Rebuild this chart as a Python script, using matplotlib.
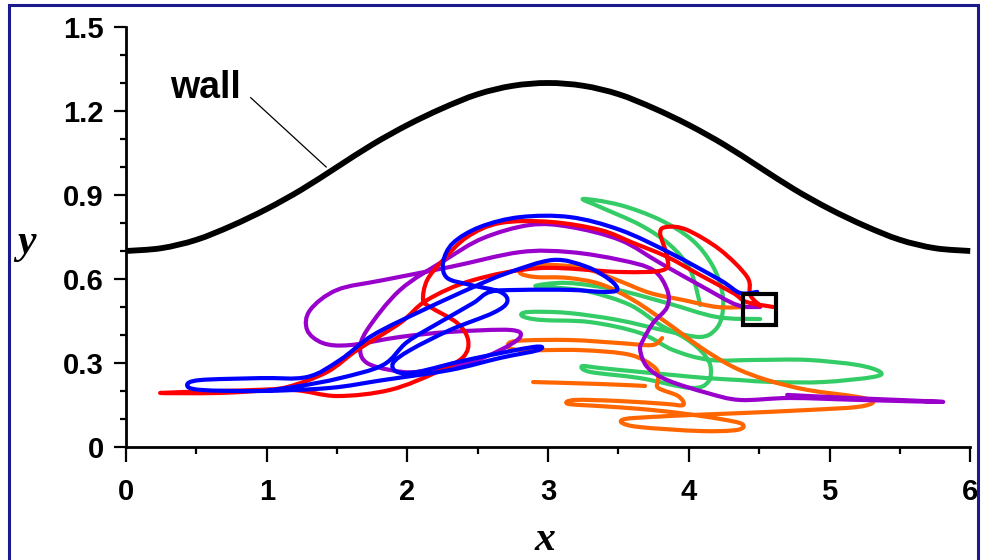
import numpy as np
import matplotlib.pyplot as plt
from matplotlib.patches import Rectangle, PathPatch
from matplotlib.path import Path
from matplotlib.ticker import MultipleLocator

plt.rcParams['font.family'] = ['Liberation Sans', 'DejaVu Sans']
plt.rcParams['font.weight'] = 'bold'

# wavy wall y(x)
wall_x = [0, 0.25, 0.5, 0.75, 1.0, 1.25, 1.5, 1.75, 2.0, 2.25, 2.5, 2.75, 3.0,
          3.25, 3.5, 3.75, 4.0, 4.25, 4.5, 4.75, 5.0, 5.25, 5.5, 5.75, 6.0]
wall_y = [0.70, 0.71, 0.74, 0.79, 0.85, 0.92, 1.00, 1.08, 1.15, 1.21, 1.26, 1.29, 1.30,
          1.29, 1.26, 1.21, 1.15, 1.08, 1.00, 0.92, 0.85, 0.79, 0.74, 0.71, 0.70]

# particle paths (x, y); nan breaks a path into pieces
red_x = [4.60, 4.41, 4.315, 4.08, 3.846, 3.604, 3.37, 3.014, 2.659, 2.424, 2.254, 2.14,
         2.111, 2.161, 2.353, 2.431, 2.396, 2.211, 1.877, 1.50, 1.166, 0.668, 0.242,
         0.668, 0.931, 1.145, 1.429, 1.642, 1.948, 2.14, 2.467, 2.943, 3.512, 3.817,
         3.846, 3.796, 3.846, 3.988, 4.223, 4.415, 4.436, 4.507]
red_y = [0.50, 0.518, 0.55, 0.614, 0.679, 0.729, 0.775, 0.804, 0.80, 0.75, 0.668, 0.596,
         0.525, 0.50, 0.443, 0.382, 0.321, 0.268, 0.204, 0.182, 0.204, 0.193, 0.193,
         0.20, 0.204, 0.214, 0.268, 0.346, 0.443, 0.525, 0.596, 0.639, 0.625, 0.632,
         0.679, 0.764, 0.786, 0.775, 0.704, 0.607, 0.543, 0.504]

blue_x = [4.486, 4.365, 4.223, 3.867, 3.512, 3.156, 2.801, 2.517, 2.325, 2.254,
          2.282, 2.445, 2.659, 2.709, 2.609, 2.303, 2.019, 1.898, 1.927, 2.069, 2.424, 2.893,
          2.929, 2.659, 2.303, 1.827, 1.45, 0.953, 0.526, 0.434, 0.526, 0.953, 1.287,
          1.521, 1.756, 2.111, 2.467, 2.709, 3.036, 3.277, 3.441, 3.491, 3.391, 3.156, 2.801, 2.588,
          2.467, 2.232, 1.998, 1.827, 1.521, 1.237, 0.988]
blue_y = [0.554, 0.55, 0.596, 0.693, 0.775, 0.821, 0.821, 0.786, 0.729, 0.661,
          0.604, 0.579, 0.554, 0.518, 0.479, 0.418, 0.346, 0.30, 0.268, 0.268, 0.311, 0.357,
          0.346, 0.318, 0.275, 0.239, 0.211, 0.20, 0.204, 0.221, 0.239, 0.246, 0.25,
          0.311, 0.40, 0.489, 0.571, 0.621, 0.668, 0.643, 0.596, 0.561, 0.554, 0.561, 0.561, 0.554,
          0.514, 0.446, 0.375, 0.293, 0.246, 0.218, 0.20]

purple_x = [4.507, 4.344, 4.102, 3.796, 3.512, 3.156, 2.872, 2.538, 2.268, 1.948, 1.713,
            1.664, 1.713, 1.877, 2.069, 2.424, 2.659, 2.801, 2.73, 2.303, 1.948, 1.592,
            1.40, 1.287, 1.308, 1.50, 1.827, 2.303, 2.801, 3.156, 3.512, 3.746, 3.846,
            3.846, 3.746, 3.675, 3.654, 3.704, 3.846, 4.13, 4.365, 4.72, 5.218, 5.808,
            5.147, 4.699]
purple_y = [0.50, 0.507, 0.571, 0.657, 0.739, 0.786, 0.793, 0.746, 0.668, 0.561, 0.418,
            0.346, 0.30, 0.275, 0.268, 0.30, 0.346, 0.393, 0.418, 0.411, 0.393, 0.364,
            0.371, 0.418, 0.489, 0.561, 0.596, 0.643, 0.696, 0.696, 0.668, 0.632, 0.561,
            0.50, 0.443, 0.382, 0.346, 0.286, 0.239, 0.193, 0.168, 0.175, 0.168, 0.161,
            0.175, 0.186]

green_x = [4.081, 4.01, 3.867, 3.654, 3.37, 3.249, 3.512, 3.796, 4.024, 4.166, 4.237,
           4.237, 4.187, 4.081, 3.846, 3.491, 3.135, 2.858, 2.815, 2.943, 3.299, 3.654,
           3.889, 4.152, 4.486, 4.841, 5.197, 5.36, 5.31, 4.955, 4.60, 4.365, 4.13, 3.889,
           3.654, 3.37, 3.242, 3.299, 3.654, 4.01, 4.137, 4.152, 4.081, 3.96, 3.796, 3.583,
           3.299, 3.085, 2.909, 3.135, 3.491, 3.846, 4.201, 4.507]
green_y = [0.507, 0.632, 0.721, 0.793, 0.857, 0.886, 0.864, 0.811, 0.739, 0.65, 0.554,
           0.471, 0.418, 0.393, 0.414, 0.454, 0.479, 0.482, 0.468, 0.454, 0.446, 0.407,
           0.346, 0.311, 0.311, 0.311, 0.293, 0.268, 0.25, 0.232, 0.232, 0.239, 0.246, 0.257,
           0.268, 0.282, 0.289, 0.268, 0.246, 0.211, 0.232, 0.293, 0.346, 0.393, 0.436, 0.507,
           0.554, 0.568, 0.575, 0.586, 0.561, 0.514, 0.464, 0.457]

orange_x = [4.415, 4.201, 3.96, 3.725, 3.491, 3.249, 3.014, 2.851, 2.801, 2.909, 3.135,
            3.37, 3.604, 3.846, 4.081, 4.315, 4.557, 4.841, 5.197, 5.31, 5.197, 4.841,
            4.365, 4.01, 3.725, 3.547, 3.526, 3.654, 4.081, 4.344, 4.379, 4.223, 3.938,
            3.654, 3.37, 3.142, 3.192, 3.512, 3.832, 3.96, 3.924, 3.782, 3.782, 3.761,
            3.583, 3.227, 2.801, 2.716, 2.78, 3.156, 3.512, 3.739, 3.81,
            np.nan, 2.893, 3.37, 3.689]
orange_y = [0.50, 0.50, 0.525, 0.55, 0.596, 0.639, 0.65, 0.643, 0.621, 0.607, 0.604,
            0.582, 0.525, 0.443, 0.357, 0.286, 0.239, 0.204, 0.179, 0.161, 0.143, 0.132,
            0.121, 0.114, 0.107, 0.10, 0.086, 0.071, 0.057, 0.061, 0.082, 0.10, 0.121,
            0.136, 0.146, 0.154, 0.168, 0.164, 0.154, 0.15, 0.182, 0.211, 0.239, 0.282,
            0.329, 0.346, 0.346, 0.361, 0.379, 0.382, 0.371, 0.364, 0.389,
            np.nan, 0.232, 0.225, 0.218]

paths = [
    (green_x, green_y, '#33cc66'),
    (orange_x, orange_y, '#ff6600'),
    (purple_x, purple_y, '#9900cc'),
    (red_x, red_y, '#ff0000'),
    (blue_x, blue_y, '#0000ff'),
]


def smooth_path(xs, ys):
    """Cubic Bezier path through every point (Catmull-Rom tangents).
    nan starts a new piece."""
    verts, codes = [], []
    pts = np.column_stack([xs, ys]).astype(float)
    breaks = np.where(np.isnan(pts[:, 0]))[0]
    for piece in np.split(pts, breaks):
        piece = piece[~np.isnan(piece[:, 0])]
        n = len(piece)
        if n < 2:
            continue
        verts.append(piece[0])
        codes.append(Path.MOVETO)
        for i in range(n - 1):
            p0 = piece[max(i - 1, 0)]
            p1, p2 = piece[i], piece[i + 1]
            p3 = piece[min(i + 2, n - 1)]
            verts += [p1 + (p2 - p0) / 6, p2 - (p3 - p1) / 6, p2]
            codes += [Path.CURVE4] * 3
    return Path(verts, codes)


fig = plt.figure(figsize=(9.85, 5.6), dpi=100)
ax = fig.add_axes([0.128, 0.2018, 0.857, 0.75])

ax.add_patch(PathPatch(smooth_path(wall_x, wall_y), fill=False, ec='black', lw=4.2,
                       capstyle='butt', clip_on=False))
for px, py, c in paths:
    ax.add_patch(PathPatch(smooth_path(px, py), fill=False, ec=c, lw=3,
                           joinstyle='round', capstyle='round'))

# marker box and wall label
ax.add_patch(Rectangle((4.386, 0.436), 0.235, 0.11, fill=False, ec='black', lw=3, zorder=5))
ax.text(0.313, 1.246, 'wall', fontsize=27, fontweight='bold', ha='left', va='baseline')
ax.plot([0.886, 1.422], [1.2475, 1.0], color='black', lw=0.9)

ax.set_xlim(0, 6)
ax.set_ylim(0, 1.5)
ax.xaxis.set_major_locator(MultipleLocator(1))
ax.xaxis.set_minor_locator(MultipleLocator(0.5))
ax.yaxis.set_major_locator(MultipleLocator(0.3))
ax.yaxis.set_minor_locator(MultipleLocator(0.1))
ax.set_yticks([0, 0.3, 0.6, 0.9, 1.2, 1.5])
ax.set_yticklabels(['0', '0.3', '0.6', '0.9', '1.2', '1.5'])
ax.tick_params(axis='x', which='major', length=11, width=1.6, pad=11, labelsize=21)
ax.tick_params(axis='x', which='minor', length=5, width=1.6)
ax.tick_params(axis='y', which='major', length=9, width=1.6, pad=7, labelsize=21)
ax.tick_params(axis='y', which='minor', length=4.5, width=1.6)
for lab in ax.get_xticklabels() + ax.get_yticklabels():
    lab.set_fontweight('bold')
for s in ['top', 'right']:
    ax.spines[s].set_visible(False)
for s in ['left', 'bottom']:
    ax.spines[s].set_linewidth(2)

fig.text(0.553, 0.036, 'x', family=['Liberation Serif', 'DejaVu Serif'], style='italic',
         fontweight='bold', fontsize=30, ha='center', va='center')
fig.text(0.027, 0.566, 'y', family=['Liberation Serif', 'DejaVu Serif'], style='italic',
         fontweight='bold', fontsize=30, ha='center', va='center')

# navy frame round the figure
fig.add_artist(Rectangle((9 / 985, -0.05), 969 / 985, 1.05 - 5 / 560, transform=fig.transFigure,
                         fill=False, ec='#1a1a8c', lw=2.2))

fig.savefig('out.png', dpi=100)
